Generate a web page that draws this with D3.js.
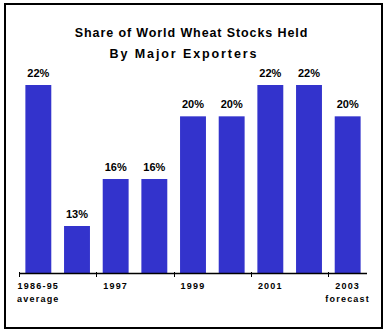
<!DOCTYPE html>
<html>
<head>
<meta charset="utf-8">
<script src="https://cdn.jsdelivr.net/npm/d3@7"></script>
<style>
  html, body { margin: 0; padding: 0; background: #fff; }
  svg { display: block; }
  text { font-family: "Liberation Sans", Arial, sans-serif; font-weight: bold; fill: #000; }
</style>
</head>
<body>
<svg id="chart" width="387" height="334"></svg>
<script>
// Share of world wheat stocks held by major exporters (%)
const periods = ["1986-95", "1996", "1997", "1998", "1999", "2000", "2001", "2002", "2003"];
const shares  = [22, 13, 16, 16, 20, 20, 22, 22, 20];
// Axis labels shown under every other bar (second line optional)
const tickLines = {
  "1986-95": ["1986-95", "average"],
  "1997": ["1997"],
  "1999": ["1999"],
  "2001": ["2001"],
  "2003": ["2003", "forecast"]
};
const titleLines = ["Share of World Wheat Stocks Held", "By Major Exporters"];

const svg = d3.select("#chart");

// outer frame
svg.append("rect")
  .attr("x", 5).attr("y", 4)
  .attr("width", 377).attr("height", 324)
  .attr("fill", "#fff").attr("stroke", "#000").attr("stroke-width", 2);

// title
svg.append("g").selectAll("text")
  .data(titleLines)
  .join("text")
  .attr("x", (d, i) => i === 0 ? 191.5 : 184)
  .attr("y", (d, i) => 37 + i * 21)
  .attr("text-anchor", "middle")
  .attr("font-size", 12.5)
  .attr("letter-spacing", (d, i) => i === 0 ? 0.9 : 1.9)
  .text(d => d);

const x = d3.scaleBand()
  .domain(periods)
  .range([19, 367])
  .paddingInner(0.33)
  .paddingOuter(0.165);

const y = d3.scaleLinear()
  .domain([10, 22])
  .range([273, 85]);

// bars
svg.append("g").selectAll("rect")
  .data(periods)
  .join("rect")
  .attr("x", d => x(d))
  .attr("y", (d, i) => y(shares[i]))
  .attr("width", x.bandwidth())
  .attr("height", (d, i) => y.range()[0] - y(shares[i]))
  .attr("fill", "#3333cc");

// value labels
svg.append("g").selectAll("text")
  .data(periods)
  .join("text")
  .attr("x", d => x(d) + x.bandwidth() / 2)
  .attr("y", (d, i) => y(shares[i]) - 8)
  .attr("text-anchor", "middle")
  .attr("font-size", 11)
  .text((d, i) => shares[i] + "%");

// baseline with ticks at every second band boundary
const step = x.step();
const x0 = x.range()[0];
svg.append("line")
  .attr("x1", x0).attr("x2", x.range()[1])
  .attr("y1", 273.5).attr("y2", 273.5)
  .attr("stroke", "#000").attr("stroke-width", 1.5);

svg.append("g").selectAll("line")
  .data(d3.range(0, periods.length, 2))
  .join("line")
  .attr("x1", i => Math.round(x0 + i * step) + 0.5)
  .attr("x2", i => Math.round(x0 + i * step) + 0.5)
  .attr("y1", 272).attr("y2", 277)
  .attr("stroke", "#000").attr("stroke-width", 1);

// category labels
const lab = svg.append("g").selectAll("text")
  .data(periods.filter(p => tickLines[p]))
  .join("text")
  .attr("text-anchor", "middle")
  .attr("font-size", 9)
  .attr("letter-spacing", 1.2);

lab.selectAll("tspan")
  .data(d => tickLines[d].map(t => ({ key: d, t })))
  .join("tspan")
  .attr("x", d => x(d.key) + x.bandwidth() / 2)
  .attr("y", (d, i) => 289 + i * 13)
  .text(d => d.t);
</script>
</body>
</html>
